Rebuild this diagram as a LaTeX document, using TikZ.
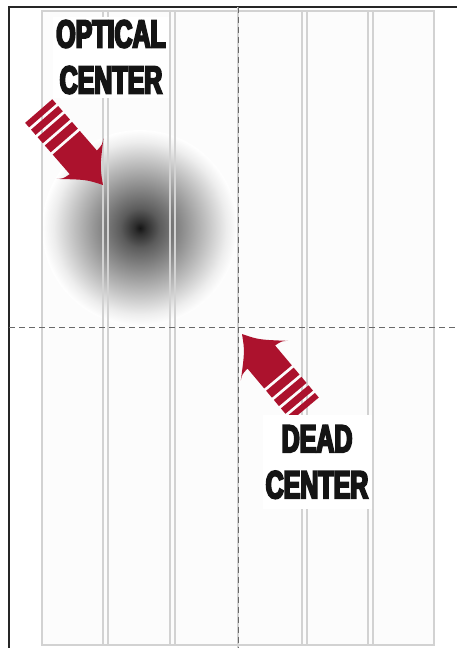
\documentclass[tikz,border=0pt]{standalone}
\usepackage{fontspec}
\usepackage{tikz}
\usepackage{xcolor}
\usetikzlibrary{arrows.meta,shapes}
\newfontfamily\labelfont{Liberation Sans}[FakeStretch=0.64,FakeBold=5]
\definecolor{arrowred}{RGB}{172,18,45}
\definecolor{pageline}{RGB}{210,210,210}
\definecolor{guidegray}{RGB}{105,105,105}
\definecolor{pagefill}{RGB}{252,252,252}
\pgfdeclareradialshading{opticalglow}{\pgfpoint{0bp}{0bp}}{color(0bp)=(black!92); color(1.5bp)=(black!82); color(5bp)=(black!64); color(11bp)=(black!44); color(17bp)=(black!24); color(22bp)=(black!7); color(25bp)=(white); color(50bp)=(white)}
\tikzset{
  pics/speedarrow/.style={code={
    \fill[arrowred] (0,0) .. controls (-15,9) .. (-35,31) .. controls (-31,26) .. (-30,18)
      -- (-56,18) -- (-56,-18) -- (-30,-18) .. controls (-31,-26) .. (-35,-31)
      .. controls (-15,-9) .. (0,0) -- cycle;
    \foreach \a/\b in {59/68,71/79,82/89,92/98}
      \fill[arrowred] (-\a,-18) rectangle (-\b,18);
  }}
}

\begin{document}
\begin{tikzpicture}[x=1pt,y=-1pt,
  column/.style={draw=pageline,line width=1.6pt},
  guide/.style={draw=guidegray,line width=1pt,dash pattern=on 6pt off 4pt},
  caption/.style={fill=white,inner sep=0pt,align=center,text=black!92,
    font=\labelfont\bfseries\fontsize{39}{46}\selectfont}]
\useasboundingbox (0,0) rectangle (457,648);
\fill[white] (0,0) rectangle (457,648);
\draw[line width=1.5pt,black!85] (9,648)--(9,7)--(457,7);
\fill[pagefill] (42,11) rectangle (434,645);
\shade[shading=opticalglow] (140,228) circle[radius=98pt];
\draw[column] (42,11) rectangle (434,645);
\foreach \x in {103,108,170,175,302,307,368,373}
  \draw[column] (\x,11)--(\x,645);
\draw[column] (238,7)--(238,648);
\draw[guide] (238,7)--(238,648);
\draw[guide] (9,327)--(457,327);
\pic[rotate=-49] at (103,185) {speedarrow};
\pic[rotate=130] at (242,334) {speedarrow};
\node[caption,minimum width=116pt,minimum height=81pt] (optical) at (111,57) {OPTICAL\\CENTER};
\node[caption,minimum width=109pt,minimum height=94pt] (dead) at (317,462) {DEAD\\CENTER};
\end{tikzpicture}
\end{document}
